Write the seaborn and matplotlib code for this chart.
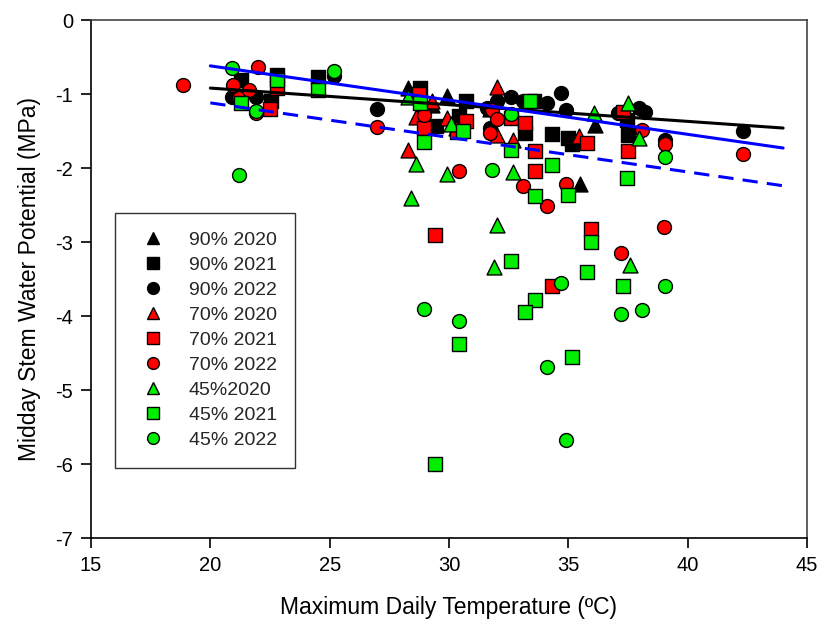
import matplotlib
matplotlib.use("Agg")
import matplotlib.pyplot as plt
import seaborn as sns
import pandas as pd
from matplotlib.lines import Line2D

# ---- data ----
t90_2020_x = [28.3, 29.3, 29.9, 31.7, 35.5, 36.1]
t90_2020_y = [-0.92, -1.15, -1.03, -1.20, -2.21, -1.42]

s90_2021_x = [21.3, 22.55, 22.8, 24.5, 28.8, 29.45, 30.4, 30.7, 33.2, 33.55, 34.3, 35.0, 35.15, 37.45, 37.5]
s90_2021_y = [-0.81, -1.10, -0.74, -0.77, -0.92, -1.43, -1.30, -1.10, -1.53, -1.10, -1.54, -1.60, -1.67, -1.35, -1.55]

c90_2022_x = [20.9, 21.9, 25.2, 27.0, 31.6, 31.7, 32.0, 32.6, 33.1, 34.1, 34.7, 34.9, 37.1, 37.95, 38.2, 39.05, 42.3]
c90_2022_y = [-1.04, -1.04, -0.76, -1.20, -1.19, -1.46, -1.10, -1.04, -1.10, -1.12, -0.98, -1.21, -1.26, -1.19, -1.24, -1.62, -1.50]

t70_2020_x = [28.3, 28.6, 29.3, 29.9, 32.0, 32.0, 32.7, 35.45, 30.3]
t70_2020_y = [-1.76, -1.31, -1.10, -1.33, -0.91, -1.55, -1.62, -1.57, -1.46]

s70_2021_x = [22.8, 22.5, 28.75, 28.95, 30.7, 30.35, 32.6, 33.2, 33.6, 33.6, 35.8, 29.4, 35.95, 34.3, 37.5, 37.3]
s70_2021_y = [-0.92, -1.20, -1.00, -1.46, -1.37, -1.52, -1.33, -1.39, -1.77, -2.04, -1.66, -2.90, -2.83, -3.60, -1.77, -1.24]

c70_2022_x = [18.85, 20.95, 21.2, 21.6, 22.0, 21.9, 27.0, 28.95, 31.7, 31.8, 32.0, 30.4, 33.1, 34.9, 34.1, 39.0, 37.2, 38.1, 39.05, 42.3]
c70_2022_y = [-0.88, -0.88, -1.05, -0.95, -0.64, -1.25, -1.45, -1.28, -1.53, -1.22, -1.34, -2.04, -2.24, -2.21, -2.51, -2.80, -3.15, -1.48, -1.68, -1.81]

t45_2020_x = [28.3, 30.1, 28.6, 29.9, 32.7, 28.4, 32.0, 31.9, 37.6, 36.07, 37.5, 37.95]
t45_2020_y = [-1.04, -1.40, -1.95, -2.08, -2.05, -2.41, -2.77, -3.34, -3.31, -1.25, -1.12, -1.59]

s45_2021_x = [21.3, 22.8, 24.5, 28.8, 28.95, 30.6, 33.4, 32.6, 34.3, 33.6, 35.0, 37.45, 35.95, 32.6, 35.8, 37.3, 33.6, 33.2, 30.4, 35.15, 29.4]
s45_2021_y = [-1.12, -0.81, -0.95, -1.12, -1.65, -1.50, -1.10, -1.76, -1.96, -2.38, -2.36, -2.13, -3.00, -3.26, -3.40, -3.60, -3.78, -3.95, -4.38, -4.55, -6.00]

c45_2022_x = [20.9, 21.2, 21.9, 25.2, 28.95, 30.4, 31.8, 32.6, 34.1, 34.7, 34.9, 37.2, 38.1, 39.05, 39.05]
c45_2022_y = [-0.65, -2.09, -1.23, -0.69, -3.90, -4.07, -2.03, -1.27, -4.69, -3.55, -5.68, -3.97, -3.92, -3.59, -1.85]

labels = ["90% 2020", "90% 2021", "90% 2022", "70% 2020", "70% 2021", "70% 2022",
          "45%2020", "45% 2021", "45% 2022"]

# regression lines (endpoints)
line_x = [20, 44]
line_black_y = [-0.92, -1.46]
line_blue_y = [-0.62, -1.73]
line_blue_dash_y = [-1.12, -2.24]

# ---- plot ----
sns.set_theme(style="white")
plt.rcParams['font.family'] = ['Liberation Sans', 'DejaVu Sans']
plt.rcParams['axes.unicode_minus'] = False

fig = plt.figure(figsize=(8.19, 6.23), dpi=100)
ax = fig.add_axes([91/819, 1-538/623, (807-91)/819, (538-20)/623])

series = [
    (t90_2020_x, t90_2020_y, "^", "black"),
    (s90_2021_x, s90_2021_y, "s", "black"),
    (c90_2022_x, c90_2022_y, "o", "black"),
    (t70_2020_x, t70_2020_y, "^", "#ff0000"),
    (s70_2021_x, s70_2021_y, "s", "#ff0000"),
    (c70_2022_x, c70_2022_y, "o", "#ff0000"),
    (t45_2020_x, t45_2020_y, "^", "#00ee00"),
    (s45_2021_x, s45_2021_y, "s", "#00ee00"),
    (c45_2022_x, c45_2022_y, "o", "#00ee00"),
]

handles = []
for (xs, ys, m, c), lab in zip(series, labels):
    df = pd.DataFrame({"x": xs, "y": ys})
    size = 100 if m != "^" else 115
    sns.scatterplot(data=df, x="x", y="y", marker=m, color=c, edgecolor="black",
                    linewidth=1.0, s=size, ax=ax, legend=False, zorder=3)
    handles.append(Line2D([], [], linestyle="none", marker=m, markerfacecolor=c,
                          markeredgecolor="black", markeredgewidth=1.0, markersize=8.5))

dfl = pd.DataFrame({"x": line_x, "k": line_black_y, "b": line_blue_y, "d": line_blue_dash_y})
sns.lineplot(data=dfl, x="x", y="k", color="black", linewidth=2.2, ax=ax, zorder=4)
sns.lineplot(data=dfl, x="x", y="b", color="#0000ff", linewidth=2.2, ax=ax, zorder=4)
sns.lineplot(data=dfl, x="x", y="d", color="#0000ff", linewidth=2.2, ax=ax, zorder=4,
             linestyle=(0, (5, 3)))

ax.set_xlim(15, 45)
ax.set_ylim(-7, 0)
ax.set_xticks([15, 20, 25, 30, 35, 40, 45])
ax.set_yticks([0, -1, -2, -3, -4, -5, -6, -7])
ax.tick_params(axis="both", direction="out", length=7, width=1.2, labelsize=14.5,
               color="black", labelcolor="black", left=True, bottom=True, pad=6)
for sp in ax.spines.values():
    sp.set_color("black")
    sp.set_linewidth(1.2)
ax.spines["top"].set_color("#444444")
ax.spines["right"].set_color("#444444")

ax.set_xlabel("Maximum Daily Temperature (ºC)", fontsize=16.5, labelpad=15, color="black")
ax.set_ylabel("Midday Stem Water Potential (MPa)", fontsize=16.5, labelpad=10, color="black")

leg = ax.legend(handles, labels, loc="upper left",
                bbox_to_anchor=((115-91)/716, (538-213)/518),
                borderaxespad=0, frameon=True, fancybox=False, fontsize=14,
                labelspacing=0.38, handletextpad=0.85, borderpad=0.95, handlelength=2.0)
leg.get_frame().set_edgecolor("black")
leg.get_frame().set_linewidth(1.0)

fig.savefig("out.png", dpi=100)
